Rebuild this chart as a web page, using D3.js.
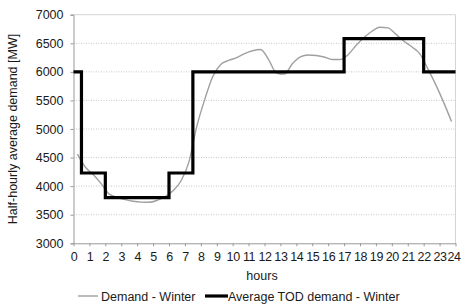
<!DOCTYPE html>
<html>
  <head>
    <script src="https://d3js.org/d3.v7.min.js"></script>
    <style>
      html, body {
        margin: 0;
        padding: 0;
        overflow: hidden;
        background: #fff;
      }
      svg text {
        font-family: "Liberation Sans", Arial, sans-serif;
        fill: #1a1a1a;
      }
    </style>
  </head>
  <body>
    <div id="chart"></div>
    <script>
      // Half-hourly demand, winter (MW), at slot centres 0.25, 0.75, ... 23.75
      const demandHours = d3.range(0.25, 24, 0.5);
      const demandWinter = [
        4560, 4330, 4200, 4040, 3860, 3805, 3765, 3735, 3720, 3717, 3750, 3815,
        3920, 4090, 4420, 5050, 5520, 5920, 6130, 6200, 6250, 6320, 6370, 6390,
        6220, 5980, 5960, 6140, 6260, 6295, 6285, 6260, 6215, 6215, 6300, 6460,
        6600, 6710, 6780, 6770, 6660, 6540, 6440, 6320, 6060, 5780, 5470, 5130
      ];

      // Time-of-day blocks: start hour and average level
      const todStart = [0, 0.5, 2, 6, 7.5, 17, 22, 24];
      const todValue = [6000, 4230, 3800, 4230, 6000, 6580, 6000, 6000];

      const xTicks = d3.range(0, 25);
      const yTicks = [3000, 3500, 4000, 4500, 5000, 5500, 6000, 6500, 7000];

      const width = 461, height = 305;
      const svg = d3.select("#chart").append("svg")
        .attr("width", width)
        .attr("height", height);

      const x = d3.scaleLinear().domain([0, 24]).range([73.5, 455.5]);
      const y = d3.scaleLinear().domain([3000, 7000]).range([243.3, 14.7]);

      // grid lines
      svg.append("g")
        .selectAll("line")
        .data(yTicks.filter(v => v > 3000 && v < 7000))
        .join("line")
        .attr("x1", x(0)).attr("x2", x(24))
        .attr("y1", d => y(d)).attr("y2", d => y(d))
        .attr("stroke", "#c8c8c8")
        .attr("stroke-dasharray", "1,1.5");

      // top and right border
      svg.append("path")
        .attr("d", `M${x(0)},${y(7000)}H${x(24)}V${y(3000)}`)
        .attr("fill", "none")
        .attr("stroke", "#d4d4d4");

      // y axis
      const yAxis = svg.append("g")
        .attr("transform", `translate(${x(0)},0)`)
        .call(d3.axisLeft(y).tickValues(yTicks).tickFormat(d3.format("d")).tickSize(3).tickPadding(7));
      yAxis.select(".domain").attr("stroke", "#999");
      yAxis.selectAll(".tick line").attr("stroke", "#999");
      yAxis.selectAll("text").style("font-size", "12.5px").attr("fill", "#1a1a1a");

      // x axis
      const xAxis = svg.append("g")
        .attr("transform", `translate(0,${y(3000)})`)
        .call(d3.axisBottom(x).tickValues(xTicks).tickSize(3).tickPadding(6).tickSizeOuter(0));
      xAxis.select(".domain").attr("stroke", "#999");
      xAxis.selectAll(".tick line").attr("stroke", "#999");
      xAxis.selectAll("text")
        .style("font-size", "12.5px")
        .style("letter-spacing", "-0.4px")
        .attr("fill", "#1a1a1a")
        .attr("dx", d => d === 24 ? -2 : 0);

      // axis titles
      svg.append("text")
        .attr("x", 262).attr("y", 280)
        .attr("text-anchor", "middle")
        .style("font-size", "12.5px")
        .text("hours");

      svg.append("text")
        .attr("transform", "translate(17,129) rotate(-90)")
        .attr("text-anchor", "middle")
        .style("font-size", "12.5px")
        .text("Half-hourly average demand [MW]");

      // demand curve
      const demandLine = d3.line()
        .x(d => x(d[0]))
        .y(d => y(d[1]))
        .curve(d3.curveMonotoneX);

      svg.append("path")
        .datum(demandHours.map((h, i) => [h, demandWinter[i]]))
        .attr("d", demandLine)
        .attr("fill", "none")
        .attr("stroke", "#a0a0a0")
        .attr("stroke-width", 1.4);

      // TOD step line
      const todLine = d3.line()
        .x(d => x(d[0]))
        .y(d => y(d[1]))
        .curve(d3.curveStepAfter);

      svg.append("path")
        .datum(todStart.map((h, i) => [h, todValue[i]]))
        .attr("d", todLine)
        .attr("fill", "none")
        .attr("stroke", "#000")
        .attr("stroke-width", 3.2);

      // legend
      const legend = svg.append("g").attr("transform", "translate(0,296)");
      legend.append("line")
        .attr("x1", 78).attr("x2", 98)
        .attr("stroke", "#a0a0a0").attr("stroke-width", 1.4);
      legend.append("text")
        .attr("x", 101).attr("y", 4.5)
        .style("font-size", "12.5px")
        .text("Demand - Winter");
      legend.append("line")
        .attr("x1", 205).attr("x2", 228)
        .attr("stroke", "#000").attr("stroke-width", 3.2);
      legend.append("text")
        .attr("x", 228).attr("y", 4.5)
        .style("font-size", "12.5px")
        .text("Average TOD demand - Winter");
    </script>
  </body>
</html>
